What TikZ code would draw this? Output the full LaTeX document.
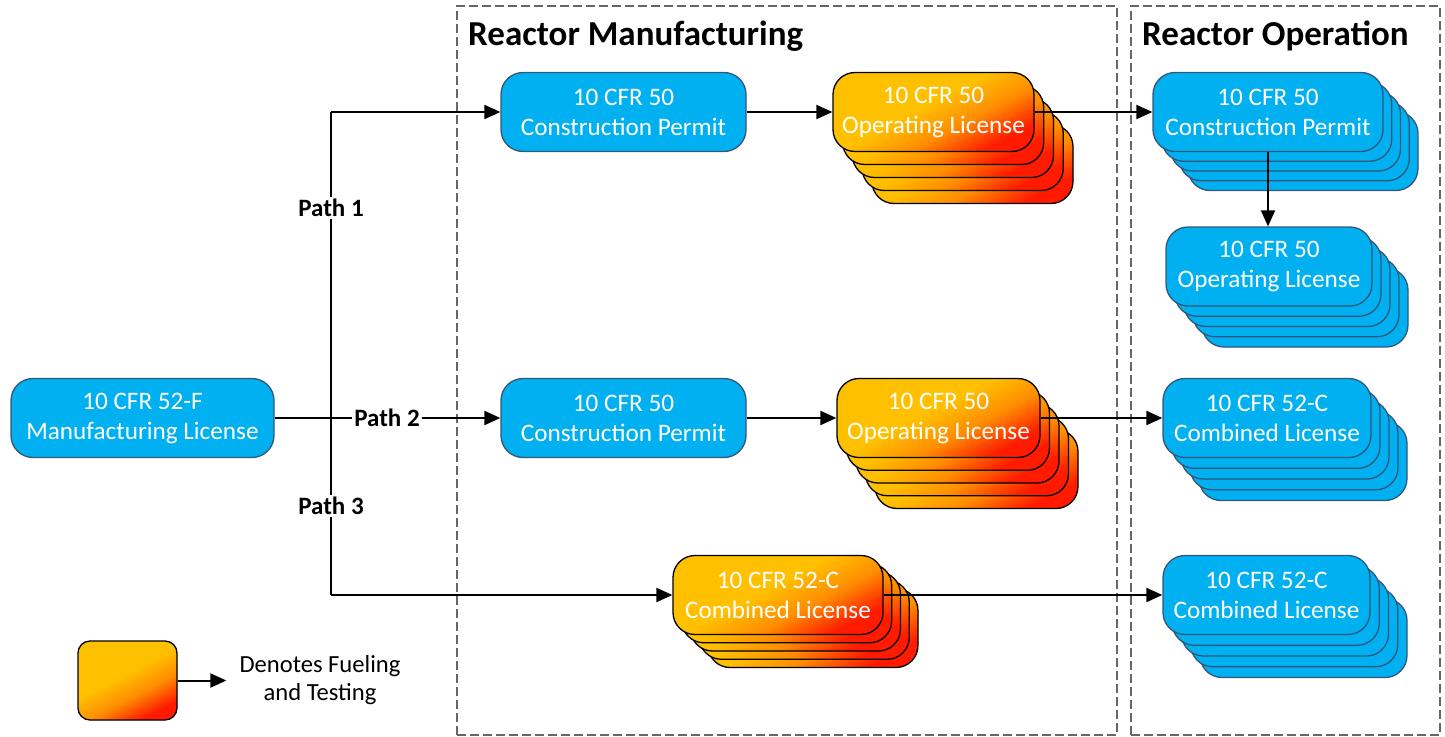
\documentclass[tikz,border=0pt]{standalone}
\usepackage{fontspec}
\setmainfont{Carlito}
\usetikzlibrary{calc}
\usetikzlibrary{arrows.meta}

\definecolor{licblue}{HTML}{00B0F0}
\definecolor{licedge}{HTML}{31577A}
\definecolor{fuelY}{HTML}{FFC000}
\definecolor{fuelO}{HTML}{FF8C00}
\definecolor{fuelR}{HTML}{FF1A00}
\pgfdeclarehorizontalshading{fuelgrad}{100bp}{color(0bp)=(fuelY); color(46bp)=(fuelY); color(60bp)=(fuelO); color(74bp)=(fuelR); color(100bp)=(fuelR)}

\tikzset{
  lic/.style={draw=licedge, fill=licblue, line width=1.3pt, rounded corners=22pt, text=white, align=center,
    minimum height=79pt, inner sep=0pt, font=\fontsize{25.2}{30}\selectfont},
  fuelbox/.style={lic, draw=black, shading=fuelgrad, shading angle=-62},
  frame/.style={draw=black!60, dash pattern=on 9pt off 4pt, line width=1.2pt},
  conn/.style={line width=2pt, -{Triangle[length=16pt,width=14pt]}},
  pathlbl/.style={fill=white, inner sep=2pt, font=\fontsize{25}{28}\selectfont\bfseries},
  title/.style={anchor=base west, inner sep=0pt, font=\fontsize{35}{40}\selectfont\bfseries},
}

\begin{document}
\begin{tikzpicture}[x=1pt,y=-1pt]
\useasboundingbox (0,0) rectangle (1445,736);

% frames
\node[frame, minimum width=660pt, minimum height=729pt] (rmf) at (787,370.5) {};
\node[frame, minimum width=309pt, minimum height=729pt] (rof) at (1285.5,370.5) {};
\node[title] (rmt) at (468,45) {Reactor Manufacturing};
\node[title] (rot) at (1142,45) {Reactor Operation};

% manufacturing license and paths
\node[lic, minimum width=263pt] (ml) at (142.5,418) {10 CFR 52-F\\Manufacturing License};
\coordinate (c1) at (331,112);
\coordinate (c3) at (331,595);

\node[lic, minimum width=245pt] (cpA) at (623.5,112) {10 CFR 50\\Construction Permit};
\node[lic, minimum width=245pt] (cpB) at (623.5,418) {10 CFR 50\\Construction Permit};

% stacks
\foreach \k in {4,3,2,1}
  \node[fuelbox, minimum width=201pt] (olA\k) at ($(933.5,112)+\k*(9.75,13)$) {};
\node[fuelbox, minimum width=201pt] (olA) at (933.5,112) {10 CFR 50\\Operating License};

\foreach \k in {4,3,2,1}
  \node[fuelbox, minimum width=203pt] (olB\k) at ($(938.5,418)+\k*(9.5,12.75)$) {};
\node[fuelbox, minimum width=203pt] (olB) at (938.5,418) {10 CFR 50\\Operating License};

\foreach \k in {4,3,2,1}
  \node[fuelbox, minimum width=210pt] (clC\k) at ($(778,595)+\k*(8.75,8.25)$) {};
\node[fuelbox, minimum width=210pt] (clC) at (778,595) {10 CFR 52-C\\Combined License};

\foreach \k in {4,3,2,1}
  \node[lic, minimum width=230pt] (rcp\k) at ($(1268,112)+\k*(8.75,9.75)$) {};
\node[lic, minimum width=230pt] (rcp) at (1268,112) {10 CFR 50\\Construction Permit};

\foreach \k in {4,3,2,1}
  \node[lic, minimum width=206pt] (rol\k) at ($(1269,266.5)+\k*(9,10.25)$) {};
\node[lic, minimum width=206pt] (rol) at (1269,266.5) {10 CFR 50\\Operating License};

\foreach \k in {4,3,2,1}
  \node[lic, minimum width=208pt] (rclA\k) at ($(1267,418)+\k*(9,10.75)$) {};
\node[lic, minimum width=208pt] (rclA) at (1267,418) {10 CFR 52-C\\Combined License};

\foreach \k in {4,3,2,1}
  \node[lic, minimum width=207pt] (rclB\k) at ($(1266.5,595)+\k*(9.25,10.75)$) {};
\node[lic, minimum width=207pt] (rclB) at (1266.5,595) {10 CFR 52-C\\Combined License};

% connectors
\draw[line width=2pt] (c1) -- (c3);
\draw[conn] (c1) -- (cpA.west);
\draw[conn] (c3) -- (clC.west);
\draw[conn] (ml.east) -- (cpB.west);
\draw[conn] (cpA.east) -- (olA.west);
\draw[conn] (cpB.east) -- (olB.west);
\draw[conn] (olA.east) -- (rcp.west);
\draw[conn] (olB.east) -- (rclA.west);
\draw[conn] (clC.east) -- (rclB.west);
\draw[conn] (rcp.south) -- (rcp.south |- rol.north);

\node[pathlbl] (p1) at (331,208) {Path 1};
\node[pathlbl] (p2) at (387,418) {Path 2};
\node[pathlbl] (p3) at (331,506) {Path 3};

% legend
\node[fuelbox, rounded corners=12pt, minimum width=99pt] (lg) at (127.5,680.5) {};
\node[align=center, inner xsep=13pt, inner ysep=0pt, font=\fontsize{24.6}{28}\selectfont] (lgt) at (320,680.5) {Denotes Fueling\\and Testing};
\draw[conn] (lg.east) -- (lg.east -| lgt.west);
\end{tikzpicture}
\end{document}
